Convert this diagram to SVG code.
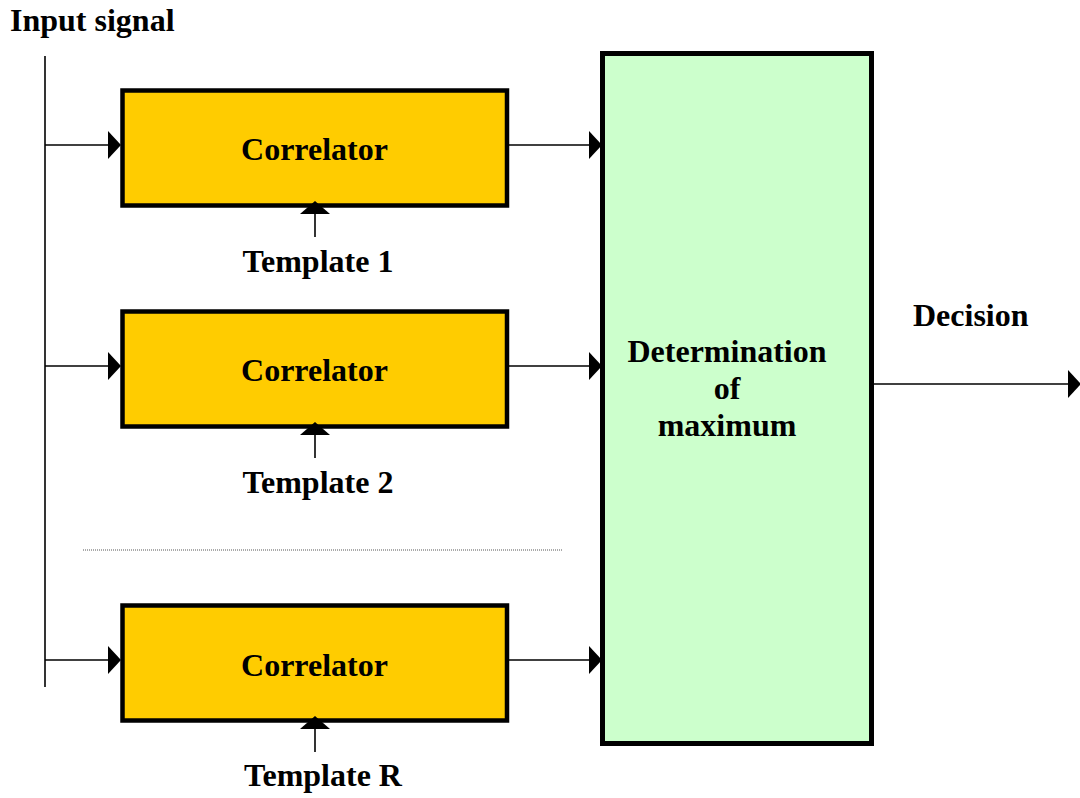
<svg xmlns="http://www.w3.org/2000/svg" width="1080" height="798" viewBox="0 0 1080 798">
  <style>
    .lbl { font-family: "Liberation Serif", "Times New Roman", serif; font-weight: bold; font-size: 32px; fill: #000; }
    .mid { text-anchor: middle; }
    .corr { fill: #FFCC00; stroke: #000; stroke-width: 4.5; }
    .maxbox { fill: #CCFFCC; stroke: #000; stroke-width: 5; }
    .wire { stroke: #000; stroke-width: 1.6; fill: none; }
    .head { fill: #000; }
  </style>

  <!-- input bus -->
  <g id="input">
    <text class="lbl" x="10" y="31">Input signal</text>
  </g>

  <!-- correlator branches -->
  <g id="correlator1">
    <rect class="corr" x="122.5" y="90.5" width="384.5" height="115"/>
    <text class="lbl mid" x="314.5" y="160">Correlator</text>
  </g>
  <g id="template1">
    <text class="lbl mid" x="318" y="272">Template 1</text>
  </g>

  <g id="correlator2">
    <rect class="corr" x="122.5" y="311.5" width="384.5" height="115"/>
    <text class="lbl mid" x="314.5" y="381">Correlator</text>
  </g>
  <g id="template2">
    <text class="lbl mid" x="318" y="493">Template 2</text>
  </g>

  <g id="correlatorR">
    <rect class="corr" x="122.5" y="605.5" width="384.5" height="115"/>
    <text class="lbl mid" x="314.5" y="676">Correlator</text>
  </g>
  <g id="templateR">
    <text class="lbl mid" x="323" y="786">Template R</text>
  </g>

  <!-- maximum selector -->
  <g id="maximum">
    <rect class="maxbox" x="602.5" y="53.5" width="269" height="690"/>
    <text class="lbl mid" x="727" y="362">Determination</text>
    <text class="lbl mid" x="727" y="399">of</text>
    <text class="lbl mid" x="727" y="436">maximum</text>
  </g>

  <g id="decision">
    <text class="lbl" x="913" y="326">Decision</text>
  </g>

  <!-- elision between branches -->
  <line x1="83" y1="550" x2="563" y2="550" stroke="#555" stroke-width="1" stroke-dasharray="1 1"/>

  <g id="connectors">
    <!-- bus -->
    <line class="wire" x1="45" y1="56" x2="45" y2="687"/>

    <!-- bus to correlators -->
    <line class="wire" x1="45" y1="145" x2="110" y2="145"/>
    <polygon class="head" points="108,131 121,145 108,159"/>
    <line class="wire" x1="45" y1="366" x2="110" y2="366"/>
    <polygon class="head" points="108,352 121,366 108,380"/>
    <line class="wire" x1="45" y1="660" x2="110" y2="660"/>
    <polygon class="head" points="108,646 121,660 108,674"/>

    <!-- correlators to selector -->
    <line class="wire" x1="508" y1="145" x2="590" y2="145"/>
    <polygon class="head" points="589,131 602,145 589,159"/>
    <line class="wire" x1="508" y1="366" x2="590" y2="366"/>
    <polygon class="head" points="589,352 602,366 589,380"/>
    <line class="wire" x1="508" y1="660" x2="590" y2="660"/>
    <polygon class="head" points="589,646 602,660 589,674"/>

    <!-- templates into correlators -->
    <line class="wire" x1="315" y1="213" x2="315" y2="237"/>
    <polygon class="head" points="300,214 315,201 330,214"/>
    <line class="wire" x1="315" y1="434" x2="315" y2="458"/>
    <polygon class="head" points="300,435 315,422 330,435"/>
    <line class="wire" x1="315" y1="728" x2="315" y2="752"/>
    <polygon class="head" points="300,729 315,716 330,729"/>

    <!-- decision output -->
    <line class="wire" x1="874" y1="384" x2="1070" y2="384"/>
    <polygon class="head" points="1068,370 1081,384 1068,398"/>
  </g>
</svg>
